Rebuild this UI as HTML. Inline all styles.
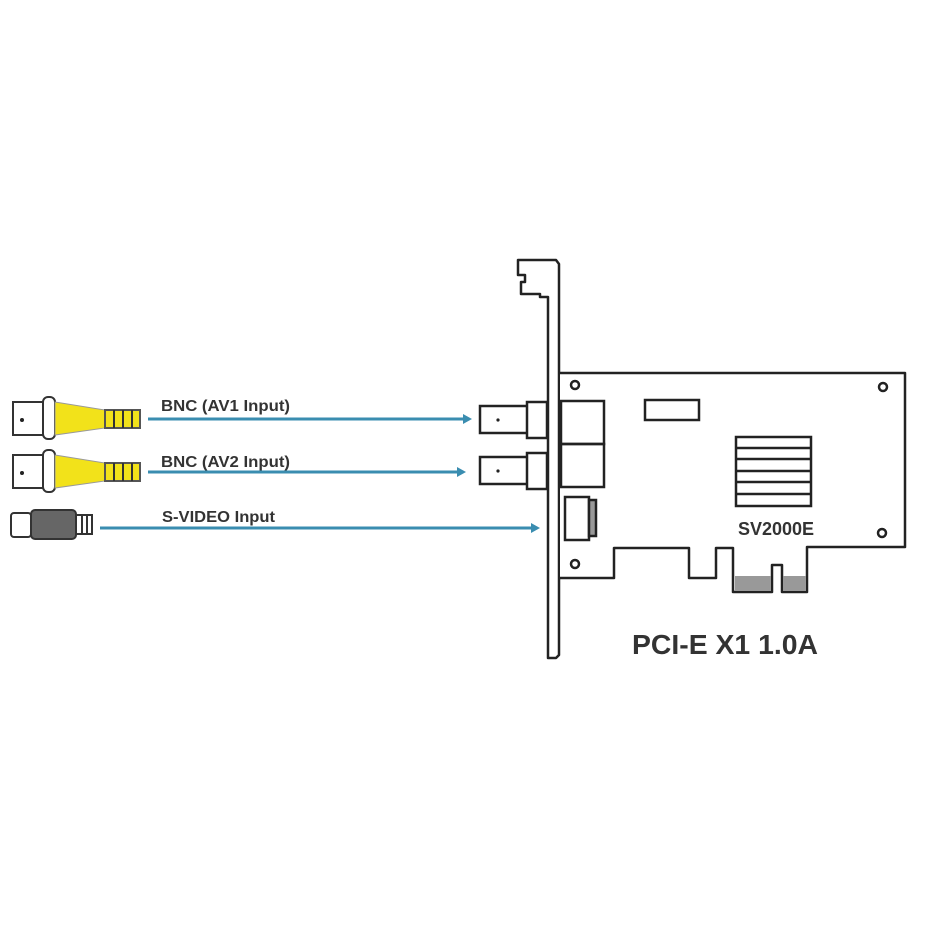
<!DOCTYPE html>
<html><head><style>
html,body{margin:0;padding:0;background:#fff;width:950px;height:950px;overflow:hidden}
</style></head><body>
<svg width="950" height="950" xmlns="http://www.w3.org/2000/svg" font-family="Liberation Sans, sans-serif">
<g stroke="#222" stroke-width="2.5" fill="none" stroke-linejoin="round">
 <path d="M548,658 L548,297 L540,297 L540,294 L521,294 L521,282 L525,282 L525,275 L518,275 L518,260 L556,260 L559,264 L559,655 L556,658 Z" fill="#fff"/>
 <path d="M560,373 L905,373 L905,547 L807,547 L807,592 L782,592 L782,565 L772,565 L772,592 L733,592 L733,548 L716,548 L716,578 L689,578 L689,548 L614,548 L614,578 L560,578" fill="#fff"/>
</g>
<rect x="735" y="576" width="36" height="15" fill="#999"/>
<rect x="783" y="576" width="23" height="15" fill="#999"/>
<g stroke="#222" stroke-width="2.5" fill="none">
 <circle cx="575" cy="385" r="4"/><circle cx="883" cy="387" r="4"/>
 <circle cx="575" cy="564" r="4"/><circle cx="882" cy="533" r="4"/>
 <rect x="645" y="400" width="54" height="20"/>
 <rect x="736" y="437" width="75" height="69"/>
 <line x1="736" y1="448" x2="811" y2="448"/><line x1="736" y1="459" x2="811" y2="459"/>
 <line x1="736" y1="471" x2="811" y2="471"/><line x1="736" y1="482" x2="811" y2="482"/>
 <line x1="736" y1="494" x2="811" y2="494"/>
 <rect x="561" y="401" width="43" height="43"/>
 <rect x="561" y="444" width="43" height="43"/>
 <rect x="480" y="406" width="48" height="27" fill="#fff"/>
 <rect x="527" y="402" width="20" height="36" fill="#fff"/>
 <rect x="480" y="457" width="48" height="27" fill="#fff"/>
 <rect x="527" y="453" width="20" height="36" fill="#fff"/>
 <rect x="565" y="497" width="24" height="43"/>
 <rect x="589" y="500" width="7" height="36" fill="#999"/>
</g>
<circle cx="498" cy="420" r="1.6" fill="#222"/><circle cx="498" cy="471" r="1.6" fill="#222"/>
<text x="738" y="535" font-size="18" font-weight="bold" fill="#333">SV2000E</text>
<text x="632" y="654" font-size="28" font-weight="bold" fill="#333" textLength="186" lengthAdjust="spacingAndGlyphs">PCI-E X1 1.0A</text>
<g stroke="#3a8db0" stroke-width="3" fill="#3a8db0">
 <line x1="148" y1="419" x2="466" y2="419"/><path d="M472,419 L463,414 L463,424 Z" stroke="none"/>
 <line x1="148" y1="472" x2="460" y2="472"/><path d="M466,472 L457,467 L457,477 Z" stroke="none"/>
 <line x1="100" y1="528" x2="534" y2="528"/><path d="M540,528 L531,523 L531,533 Z" stroke="none"/>
</g>
<g font-size="16" font-weight="bold" fill="#333">
 <text x="161" y="411" textLength="129" lengthAdjust="spacingAndGlyphs">BNC (AV1 Input)</text>
 <text x="161" y="467" textLength="129" lengthAdjust="spacingAndGlyphs">BNC (AV2 Input)</text>
 <text x="162" y="522" textLength="113" lengthAdjust="spacingAndGlyphs">S-VIDEO Input</text>
</g>
<g stroke="#333" stroke-width="2">
 <g>
  <rect x="13" y="402" width="30" height="33" fill="#fff"/>
  <rect x="43" y="397" width="12" height="42" rx="5" fill="#fff"/>
  <path d="M55,402 L105,410 L105,428 L55,435 Z" fill="#f2e21a" stroke="#999" stroke-width="1"/>
  <rect x="105" y="410" width="35" height="18" fill="#f2e21a" stroke="#555"/>
  <line x1="114" y1="410" x2="114" y2="428"/><line x1="123" y1="410" x2="123" y2="428"/><line x1="132" y1="410" x2="132" y2="428"/>
 </g>
 <g transform="translate(0,53)">
  <rect x="13" y="402" width="30" height="33" fill="#fff"/>
  <rect x="43" y="397" width="12" height="42" rx="5" fill="#fff"/>
  <path d="M55,402 L105,410 L105,428 L55,435 Z" fill="#f2e21a" stroke="#999" stroke-width="1"/>
  <rect x="105" y="410" width="35" height="18" fill="#f2e21a" stroke="#555"/>
  <line x1="114" y1="410" x2="114" y2="428"/><line x1="123" y1="410" x2="123" y2="428"/><line x1="132" y1="410" x2="132" y2="428"/>
 </g>
 <rect x="11" y="513" width="20" height="24" rx="3" fill="#fff"/>
 <rect x="31" y="510" width="45" height="29" rx="4" fill="#666"/>
 <rect x="76" y="515" width="16" height="19" fill="#fff"/>
 <line x1="82" y1="515" x2="82" y2="534"/><line x1="87" y1="515" x2="87" y2="534"/>
</g>
<circle cx="22" cy="420" r="2" fill="#222"/><circle cx="22" cy="473" r="2" fill="#222"/>
</svg>
</body></html>
